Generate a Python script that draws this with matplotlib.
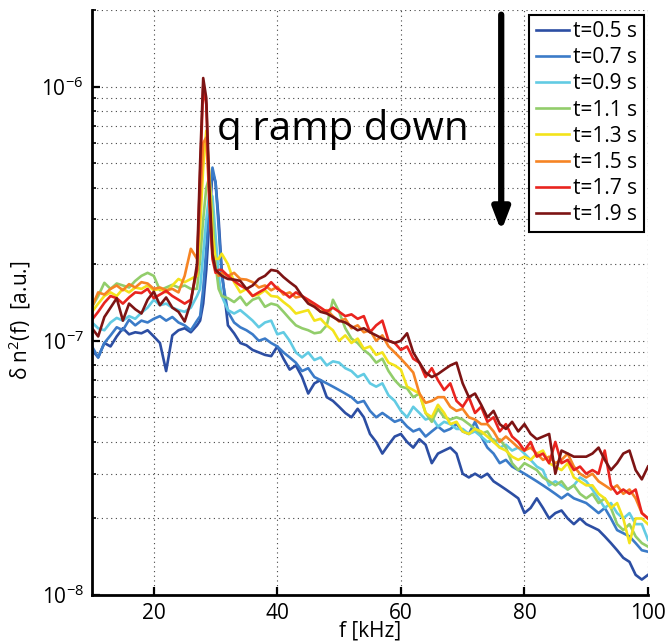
import matplotlib
matplotlib.use("Agg")
import matplotlib.pyplot as plt
from matplotlib.ticker import LogLocator, NullFormatter
import numpy as np

plt.rcParams['font.family'] = ['Open Sans', 'DejaVu Sans']
plt.rcParams['mathtext.fontset'] = 'custom'
plt.rcParams['mathtext.rm'] = 'Open Sans'
plt.rcParams['mathtext.it'] = 'Open Sans:italic'
plt.rcParams['mathtext.bf'] = 'Open Sans:bold'

# frequency grid [kHz]
freq = ([10, 11, 12, 13, 14, 15, 16, 17, 18, 19, 20, 21, 22, 23, 24, 25, 26, 27,
         27.5, 28, 28.5, 29, 29.5, 30, 30.5, 31]
        + list(range(32, 101)))

labels = ['t=0.5 s', 't=0.7 s', 't=0.9 s', 't=1.1 s', 't=1.3 s', 't=1.5 s', 't=1.7 s', 't=1.9 s']
colors = ['#2c4ea3', '#3b7bc8', '#62cbe3', '#92cd6b', '#f3e31b', '#f68424', '#e9241f', '#7d1414']

# spectra in units of 1e-7 a.u.
s05 = [0.92, 0.86, 0.98, 0.95, 1.04, 1.12, 1.06, 1.08, 1.07, 1.10, 1.04, 0.98, 0.76, 1.05, 1.10, 1.12, 1.08, 1.15,
       1.20, 1.40, 1.90, 3.00, 4.60, 4.20, 3.00, 1.90,
       1.15, 1.07, 0.98, 0.96, 0.92, 0.90, 0.88, 0.87, 0.95, 0.85, 0.77, 0.80, 0.72, 0.62, 0.68, 0.70, 0.60, 0.58, 0.55,
       0.52, 0.50, 0.54, 0.50, 0.43, 0.40, 0.36, 0.39, 0.42, 0.43, 0.40, 0.38, 0.41, 0.39, 0.33, 0.36, 0.37, 0.38, 0.36,
       0.30, 0.29, 0.30, 0.29, 0.30, 0.28, 0.27, 0.26, 0.25, 0.24, 0.21, 0.22, 0.24, 0.22, 0.20, 0.21, 0.215, 0.20, 0.19,
       0.20, 0.19, 0.185, 0.18, 0.17, 0.16, 0.15, 0.14, 0.135, 0.12, 0.115, 0.12]
s07 = [0.95, 0.86, 0.98, 1.05, 1.13, 1.10, 1.21, 1.15, 1.20, 1.18, 1.22, 1.25, 1.20, 1.24, 1.18, 1.15, 1.10, 1.20,
       1.25, 1.60, 2.30, 3.50, 4.80, 4.20, 2.80, 1.80,
       1.30, 1.18, 1.13, 1.10, 1.06, 1.00, 1.02, 0.98, 0.95, 0.90, 0.86, 0.82, 0.76, 0.78, 0.72, 0.70, 0.68, 0.66, 0.64,
       0.62, 0.60, 0.57, 0.58, 0.53, 0.50, 0.52, 0.50, 0.48, 0.49, 0.46, 0.44, 0.45, 0.42, 0.44, 0.46, 0.44, 0.45, 0.47,
       0.44, 0.43, 0.48, 0.42, 0.38, 0.36, 0.33, 0.34, 0.32, 0.31, 0.30, 0.29, 0.28, 0.27, 0.26, 0.25, 0.24, 0.25, 0.24,
       0.235, 0.23, 0.22, 0.21, 0.22, 0.20, 0.18, 0.175, 0.17, 0.16, 0.15, 0.148]
s09 = [1.18, 1.12, 1.10, 1.18, 1.23, 1.20, 1.25, 1.22, 1.29, 1.35, 1.45, 1.38, 1.40, 1.35, 1.32, 1.30, 1.35, 1.50,
       1.60, 2.20, 3.00, 3.80, 3.70, 2.60, 1.80, 1.50,
       1.32, 1.28, 1.32, 1.26, 1.20, 1.13, 1.18, 1.20, 1.06, 1.08, 1.00, 0.90, 0.86, 0.90, 0.84, 0.86, 0.80, 0.83, 0.82,
       0.78, 0.76, 0.72, 0.74, 0.68, 0.66, 0.68, 0.61, 0.58, 0.53, 0.50, 0.55, 0.52, 0.49, 0.50, 0.46, 0.48, 0.47, 0.45,
       0.45, 0.43, 0.44, 0.42, 0.40, 0.41, 0.38, 0.39, 0.37, 0.38, 0.36, 0.34, 0.32, 0.31, 0.27, 0.28, 0.27, 0.26, 0.27,
       0.29, 0.28, 0.26, 0.24, 0.22, 0.23, 0.21, 0.20, 0.21, 0.19, 0.19, 0.165]
s11 = [1.36, 1.50, 1.69, 1.60, 1.68, 1.65, 1.62, 1.72, 1.80, 1.85, 1.80, 1.58, 1.62, 1.66, 1.62, 1.65, 1.60, 1.60,
       2.10, 3.00, 4.00, 4.40, 3.20, 2.00, 1.60, 1.50,
       1.47, 1.42, 1.49, 1.38, 1.45, 1.48, 1.36, 1.40, 1.38, 1.30, 1.22, 1.15, 1.12, 1.10, 1.07, 1.08, 1.15, 1.45, 1.30,
       1.12, 1.02, 0.98, 0.92, 0.88, 0.82, 0.85, 0.76, 0.70, 0.66, 0.65, 0.60, 0.62, 0.52, 0.48, 0.54, 0.50, 0.49, 0.50,
       0.49, 0.47, 0.45, 0.43, 0.44, 0.40, 0.41, 0.38, 0.33, 0.31, 0.33, 0.32, 0.31, 0.29, 0.28, 0.27, 0.28, 0.26, 0.27,
       0.25, 0.24, 0.25, 0.23, 0.24, 0.22, 0.19, 0.18, 0.19, 0.17, 0.16, 0.155]
s13 = [1.30, 1.40, 1.50, 1.55, 1.50, 1.60, 1.55, 1.62, 1.60, 1.65, 1.58, 1.60, 1.55, 1.65, 1.75, 1.70, 1.75, 1.80,
       2.80, 4.80, 6.70, 4.50, 2.60, 2.10, 2.10, 2.20,
       2.00, 1.70, 1.55, 1.60, 1.50, 1.52, 1.58, 1.50, 1.49, 1.42, 1.36, 1.28, 1.30, 1.32, 1.20, 1.22, 1.15, 1.10, 1.00,
       1.05, 0.98, 1.02, 0.93, 0.95, 0.88, 0.90, 0.82, 0.80, 0.77, 0.66, 0.64, 0.62, 0.52, 0.50, 0.56, 0.52, 0.47, 0.48,
       0.44, 0.43, 0.45, 0.44, 0.42, 0.40, 0.38, 0.37, 0.35, 0.34, 0.35, 0.34, 0.36, 0.37, 0.33, 0.32, 0.31, 0.33, 0.29,
       0.28, 0.27, 0.27, 0.25, 0.24, 0.22, 0.23, 0.20, 0.16, 0.20, 0.20, 0.19]
s15 = [1.36, 1.55, 1.52, 1.60, 1.65, 1.58, 1.67, 1.62, 1.70, 1.68, 1.60, 1.62, 1.58, 1.60, 1.55, 1.80, 2.30, 2.10,
       3.50, 6.00, 6.30, 3.60, 2.20, 1.90, 1.80, 1.85,
       1.80, 1.85, 1.75, 1.74, 1.70, 1.62, 1.65, 1.58, 1.63, 1.52, 1.55, 1.48, 1.50, 1.42, 1.38, 1.30, 1.32, 1.25, 1.19,
       1.22, 1.12, 1.15, 1.08, 1.10, 1.00, 1.05, 0.95, 0.90, 0.85, 0.80, 0.75, 0.62, 0.57, 0.58, 0.60, 0.60, 0.55, 0.53,
       0.54, 0.50, 0.49, 0.47, 0.47, 0.44, 0.40, 0.42, 0.40, 0.38, 0.37, 0.38, 0.36, 0.34, 0.35, 0.33, 0.34, 0.36, 0.32,
       0.30, 0.29, 0.30, 0.28, 0.27, 0.26, 0.27, 0.25, 0.26, 0.24, 0.21, 0.20]
s17 = [1.21, 1.30, 1.41, 1.50, 1.47, 1.40, 1.48, 1.55, 1.54, 1.60, 1.47, 1.52, 1.57, 1.50, 1.45, 1.40, 1.45, 1.90,
       4.50, 10.0, 8.50, 3.50, 2.10, 1.85, 1.90, 1.90,
       1.80, 1.72, 1.65, 1.60, 1.50, 1.55, 1.60, 1.70, 1.60, 1.55, 1.48, 1.55, 1.50, 1.45, 1.40, 1.35, 1.30, 1.35, 1.30,
       1.25, 1.27, 1.22, 1.25, 1.08, 1.15, 1.20, 1.00, 0.98, 0.92, 0.95, 0.85, 0.82, 0.72, 0.78, 0.70, 0.64, 0.68, 0.58,
       0.55, 0.60, 0.52, 0.55, 0.48, 0.50, 0.44, 0.47, 0.42, 0.40, 0.37, 0.40, 0.35, 0.36, 0.33, 0.40, 0.33, 0.34, 0.31,
       0.32, 0.30, 0.31, 0.30, 0.37, 0.27, 0.25, 0.26, 0.25, 0.26, 0.21, 0.20]
s19 = [1.12, 1.04, 1.24, 1.35, 1.47, 1.20, 1.40, 1.33, 1.28, 1.45, 1.56, 1.38, 1.48, 1.35, 1.30, 1.19, 1.42, 2.00,
       5.00, 10.8, 9.00, 4.00, 2.20, 1.90, 1.85, 1.80,
       1.75, 1.74, 1.72, 1.60, 1.65, 1.75, 1.80, 1.90, 1.88, 1.78, 1.70, 1.63, 1.50, 1.40, 1.36, 1.30, 1.28, 1.24, 1.20,
       1.18, 1.14, 1.10, 1.12, 1.08, 1.05, 1.02, 1.00, 0.98, 1.00, 1.07, 0.90, 0.82, 0.75, 0.72, 0.74, 0.77, 0.80, 0.82,
       0.68, 0.60, 0.62, 0.56, 0.50, 0.53, 0.47, 0.45, 0.48, 0.44, 0.47, 0.43, 0.41, 0.42, 0.43, 0.30, 0.37, 0.36, 0.35,
       0.35, 0.35, 0.36, 0.38, 0.34, 0.31, 0.33, 0.36, 0.37, 0.31, 0.285, 0.32]

series = [s05, s07, s09, s11, s13, s15, s17, s19]
scale = 1e-7

W, H = 665, 644
fig = plt.figure(figsize=(W / 100, H / 100), dpi=100)
ax = fig.add_axes([92 / W, 1 - 595 / H, (648 - 92) / W, (595 - 10) / H])

for vals, col, lab in zip(series, colors, labels):
    ax.plot(freq, np.array(vals) * scale, color=col, lw=1.9, label=lab)

ax.set_yscale('log')
ax.set_xlim(10, 100)
ax.set_ylim(1e-8, 2e-6)
ax.set_xticks([20, 40, 60, 80, 100])
ax.yaxis.set_major_locator(LogLocator(base=10, numticks=10))
ax.yaxis.set_minor_locator(LogLocator(base=10, subs=np.arange(2, 10), numticks=20))
ax.yaxis.set_minor_formatter(NullFormatter())

grid_style = dict(color='#444444', linestyle=(0, (1, 3.2)), linewidth=0.8)
ax.grid(True, which='major', axis='both', **grid_style)
ax.grid(True, which='minor', axis='y', **grid_style)

for side in ['top', 'right']:
    ax.spines[side].set_visible(False)
for side in ['left', 'bottom']:
    ax.spines[side].set_linewidth(2.0)
ax.tick_params(axis='both', which='major', direction='in', length=6, width=1.6,
               labelsize=15, pad=6)
ax.tick_params(axis='y', which='minor', direction='in', length=3, width=1.2)

ax.set_xlabel('f [kHz]', fontsize=15, labelpad=-3)
ax.set_ylabel('δ n$^2$(f)  [a.u.]', fontsize=15)
ax.yaxis.set_label_coords(-0.107, 0.47)

leg = ax.legend(loc='upper right', bbox_to_anchor=(0.992, 0.992), fontsize=15,
                frameon=True, fancybox=False, framealpha=1, edgecolor='black',
                handlelength=1.6, handletextpad=0.2, labelspacing=0.25,
                borderpad=0.3, borderaxespad=0)
leg.get_frame().set_linewidth(1.5)

ax.annotate('', xy=(0.736, 0.622), xytext=(0.736, 0.992), xycoords='axes fraction',
            arrowprops=dict(arrowstyle='-|>,head_width=0.5,head_length=1.3',
                            color='black', lw=4.5, shrinkA=0, shrinkB=0))
ax.text(0.225, 0.795, 'q ramp down', transform=ax.transAxes, fontsize=29,
        va='center', ha='left', color='black')

fig.savefig('out.png', dpi=100)
